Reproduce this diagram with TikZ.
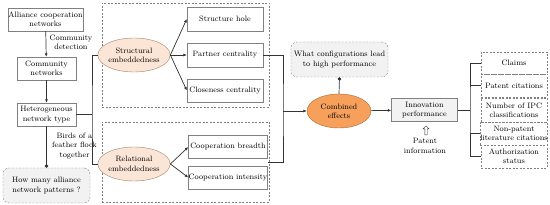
\documentclass[tikz,border=0pt]{standalone}
\usepackage{tikz}
\usetikzlibrary{arrows.meta,positioning,calc,shapes.geometric,shapes.arrows}
\definecolor{EmbFill}{HTML}{FBE5D6}
\definecolor{EmbBorder}{HTML}{A08266}
\definecolor{CombFill}{HTML}{F6A05B}
\definecolor{CombBorder}{HTML}{A8682E}
\definecolor{BoxBorder}{HTML}{808080}
\definecolor{PanelFill}{HTML}{F2F2F2}
\definecolor{LinkGray}{HTML}{333333}

\begin{document}
\begin{tikzpicture}[x=1pt,y=-1pt,
  font=\fontsize{7.8}{9.4}\selectfont,
  plainbox/.style={draw=BoxBorder,fill=white,align=center,inner sep=0pt,minimum height=23pt},
  askbox/.style={draw=BoxBorder,dash pattern=on 2pt off 1.5pt,rounded corners=6pt,fill=PanelFill,align=center,inner sep=0pt,minimum height=35pt},
  groupbox/.style={draw=BoxBorder,dash pattern=on 2pt off 1.5pt,inner sep=0pt},
  listbox/.style={draw=BoxBorder,dash pattern=on 2pt off 1.5pt,align=center,inner sep=0pt,minimum width=66pt},
  embed/.style={ellipse,draw=EmbBorder,fill=EmbFill,align=center,inner sep=0pt,minimum width=64pt,minimum height=34pt},
  note/.style={align=center,inner sep=0pt},
  link/.style={draw=LinkGray,line width=0.7pt},
  arr/.style={link,-{Latex[length=3.5pt,width=3pt]}},
  dotlink/.style={link,-{Circle[length=3.5pt]}}
]
\useasboundingbox (0,0) rectangle (550,205);

% left column
\node[plainbox,minimum width=75pt] (alliance) at (45.5,19.5) {Alliance cooperation\\networks};
\node[plainbox,minimum width=59pt] (community) at (46.5,68.5) {Community\\networks};
\node[plainbox,minimum width=59pt] (hetero) at (46.5,114.5) {Heterogeneous\\network type};
\node[askbox,minimum width=87pt] (patterns) at (46.5,185.5) {How many alliance\\network patterns ?};
\node[note,anchor=west] (detectlbl) at (49.5,42) {Community\\detection};
\node[note,anchor=west] (birdslbl) at (52,146) {Birds of a\\feather flock\\together};

% embeddedness groups
\node[groupbox,minimum width=167pt,minimum height=104pt] (structgrp) at (185.5,55) {};
\node[groupbox,minimum width=167pt,minimum height=80pt] (relgrp) at (185.5,162) {};
\node[embed] (structural) at (134,55) {Structural\\embeddedness};
\node[embed] (relational) at (134,164) {Relational\\embeddedness};
\node[plainbox,minimum width=76pt,minimum height=24pt] (hole) at (225,19) {Structure hole};
\node[plainbox,minimum width=76pt,minimum height=24pt] (partner) at (225,55) {Partner centrality};
\node[plainbox,minimum width=76pt] (closeness) at (225,90.5) {Closeness centrality};
\node[plainbox,minimum width=79pt] (breadth) at (228,147) {Cooperation breadth};
\node[plainbox,minimum width=79pt] (intensity) at (228,177.5) {Cooperation intensity};

% combined effects
\node[askbox,minimum width=97pt] (configs) at (339.5,59.5) {What configurations lead\\to high performance};
\node[embed,fill=CombFill,draw=CombBorder] (combined) at (339,111) {Combined\\effects};
\node[plainbox,fill=PanelFill,minimum width=66pt] (innov) at (424.5,110) {Innovation\\performance};
\node[single arrow,draw=LinkGray,fill=white,shape border rotate=90,minimum width=6pt,minimum height=9pt,
  single arrow head extend=1.2pt,inner sep=0.6pt] (patentarr) at (426,131) {};
\node[note] (patentlbl) at (425,146) {Patent\\information};

% indicators
\node[listbox,minimum height=22pt] (claims) at (514,63) {Claims};
\node[listbox,minimum height=23pt] (patcit) at (514,85.5) {Patent citations};
\node[listbox,minimum height=24pt] (ipc) at (514,110) {Number of IPC\\classifications};
\node[listbox,minimum height=23pt] (nonpat) at (514,133.5) {Non-patent\\literature citations};
\node[listbox,minimum height=23pt] (auth) at (514,156.5) {Authorization\\status};

\coordinate (leftsplit) at (92,114.5);
\coordinate (midsplit) at (283,111);
\coordinate (relout) at ($(breadth.south east)!0.5!(intensity.north east)$);
\coordinate (rightsplit) at (470,110);

\draw[arr] (alliance) -- (community);
\draw[arr] (community) -- (hetero);
\draw[dotlink] (hetero) -- (patterns);
\draw[link] (hetero.east) -- (leftsplit);
\draw[link] (structural.west) -| (leftsplit) |- (relational.west);
\foreach \n in {hole,partner,closeness}
  \draw[arr] (structural.east) -- (\n.west);
\foreach \n in {breadth,intensity}
  \draw[arr] (relational.east) -- (\n.west);
\draw[link] (partner.east) -| (midsplit) |- (relout);
\draw[arr] (midsplit) -- (combined.west);
\draw[link,{Circle[length=3.5pt]}-] (configs.south) -- (combined.north);
\draw[arr] (combined) -- (innov);
\draw[link] (innov.east) -- (rightsplit);
\draw[link] (claims.west) -| (rightsplit) |- (auth.west);
\foreach \n in {patcit,nonpat}
  \draw[link] (\n.west) -- (\n.west -| rightsplit);
\end{tikzpicture}
\end{document}
